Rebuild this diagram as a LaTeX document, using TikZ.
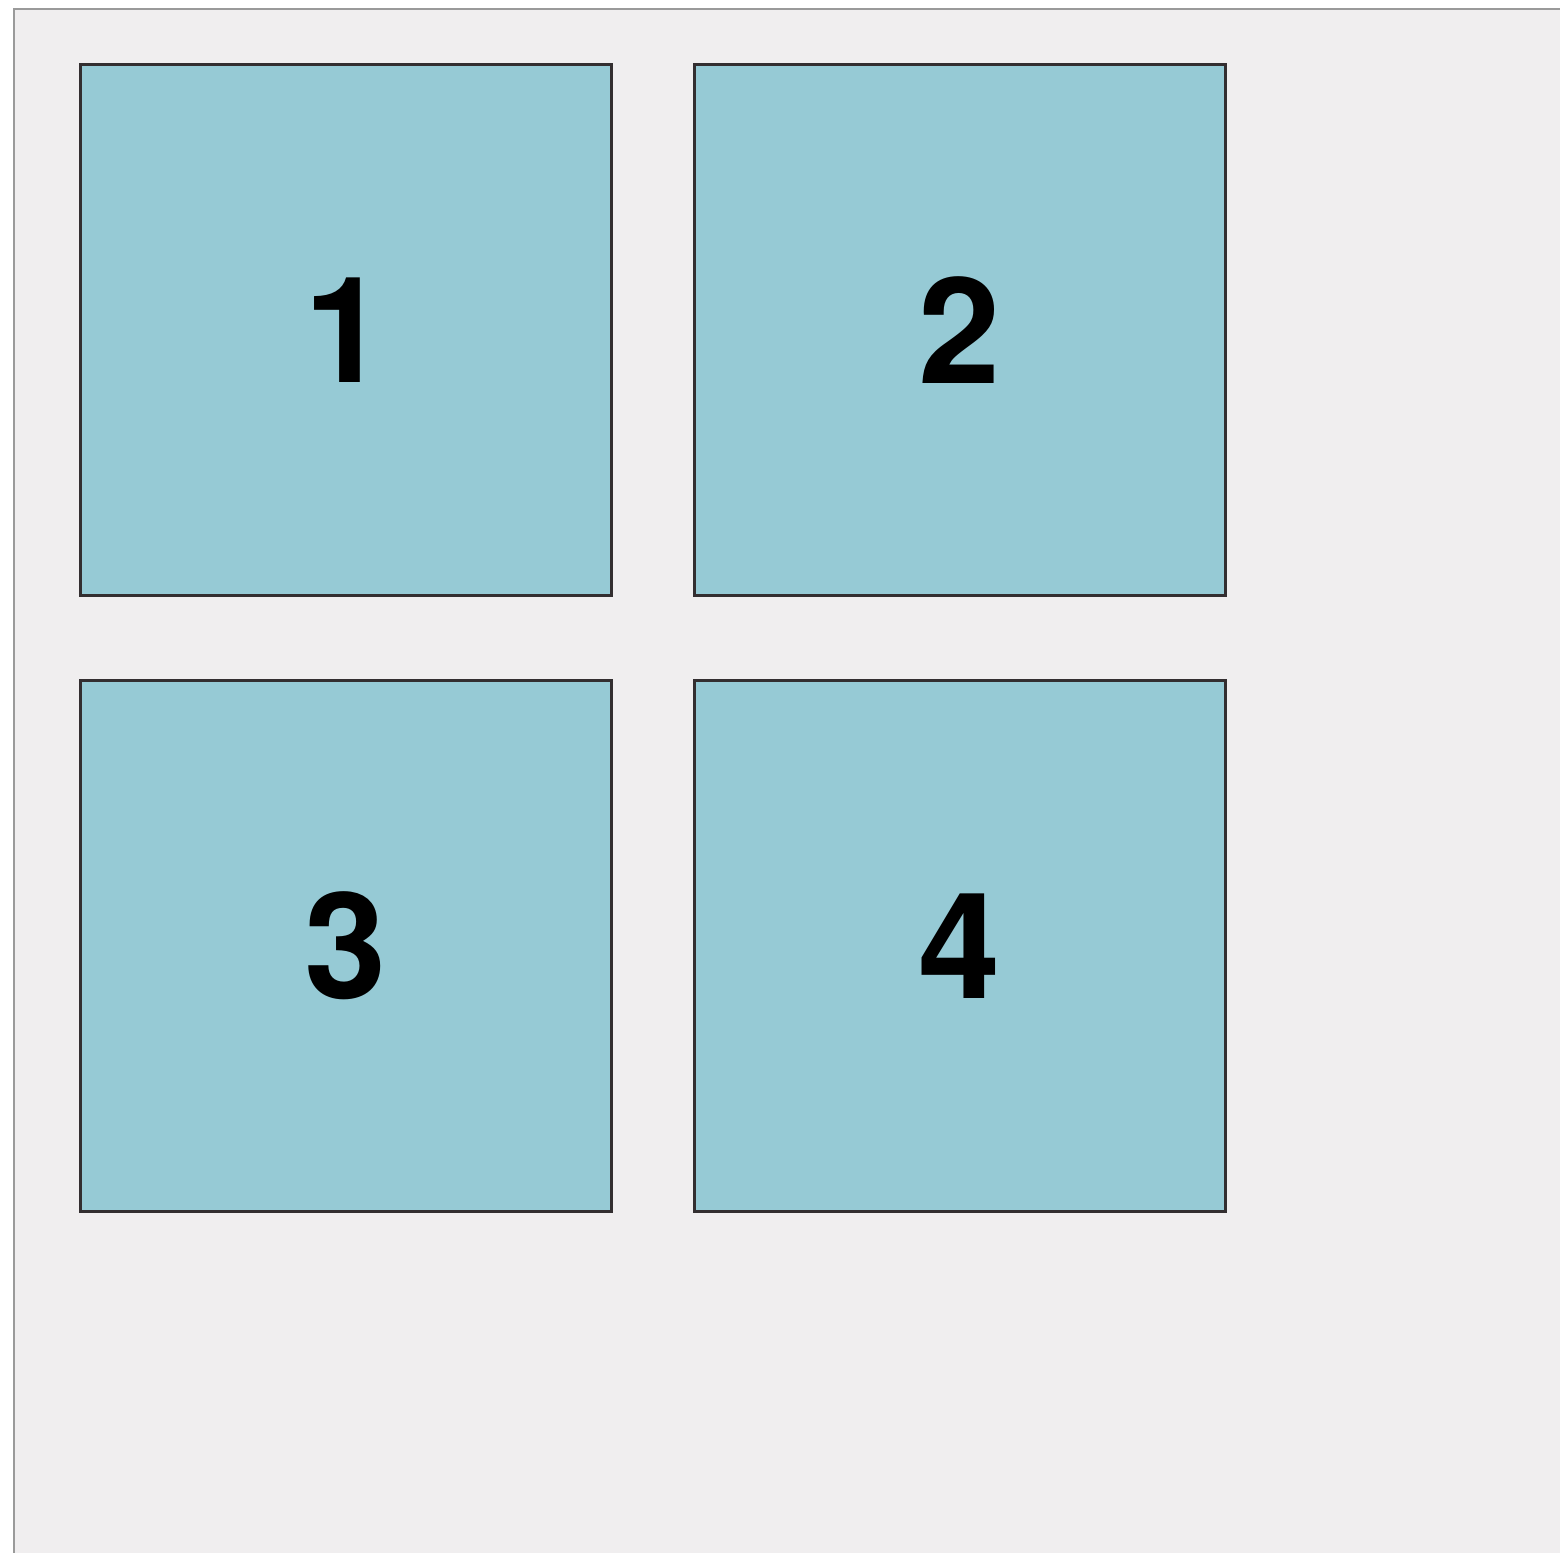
\documentclass[tikz,border=0pt]{standalone}
\usepackage{fontspec}
\setmainfont{TeX Gyre Heros}
\usetikzlibrary{positioning}
\definecolor{panelbg}{HTML}{F0EEEF}
\definecolor{framegray}{HTML}{9A9A9A}
\definecolor{tilefill}{HTML}{96CAD5}
\definecolor{tileline}{HTML}{332E30}

\begin{document}
\begin{tikzpicture}[node distance=0.83cm and 0.83cm,
    tile/.style={rectangle, draw=tileline, fill=tilefill, line width=0.85pt, minimum width=5.31cm, minimum height=5.31cm, inner sep=0pt, outer sep=0pt, font=\fontsize{42}{48}\selectfont\bfseries},
    frame/.style={draw=framegray, fill=panelbg, line width=0.6pt}]
    \useasboundingbox (0,0) rectangle (15.6,-15.52);
    \draw [frame] (0.14,-0.09) rectangle (15.8,-15.8);
    \node [tile] (one) at (3.46,-3.30) {1};
    \node [tile, right=0.83cm of one] (two) {2};
    \node [tile, below=0.85cm of one] (three) {3};
    \node [tile, below=0.85cm of two] (four) {4};
\end{tikzpicture}
\end{document}
